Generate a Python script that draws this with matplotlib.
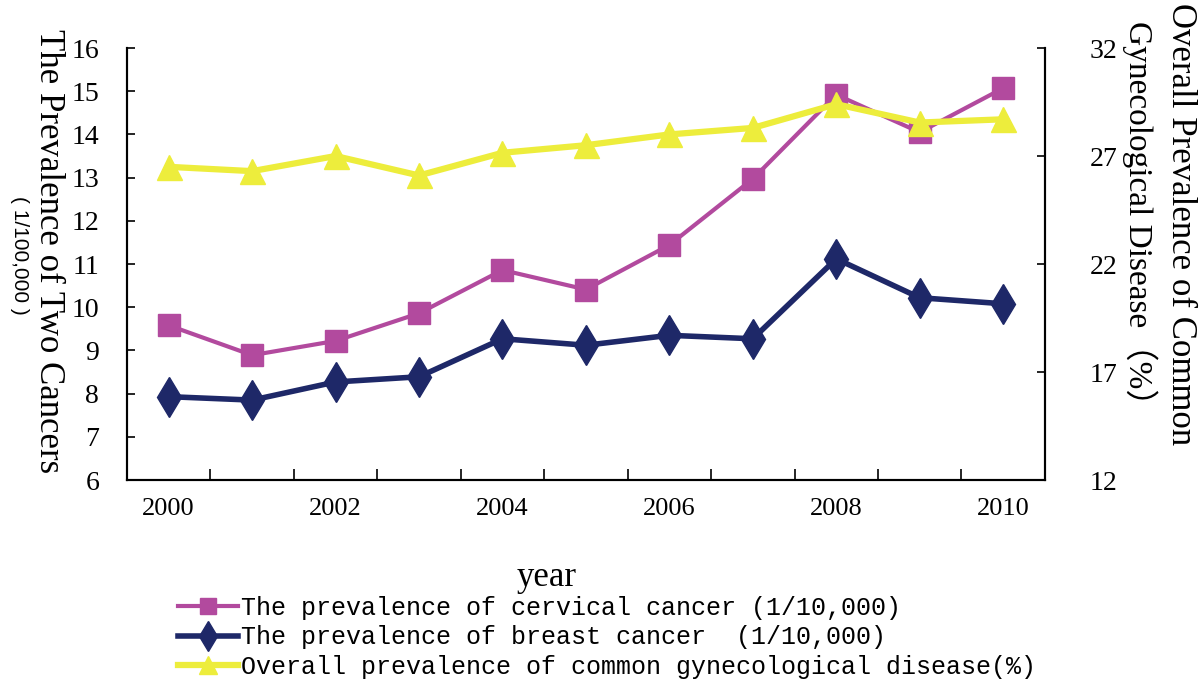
import matplotlib.pyplot as plt
from matplotlib.ticker import FixedLocator, NullFormatter

# --- data ---
years = [2000, 2001, 2002, 2003, 2004, 2005, 2006, 2007, 2008, 2009, 2010]
cervical = [9.58, 8.89, 9.22, 9.86, 10.86, 10.41, 11.44, 12.97, 14.92, 14.05, 15.07]
breast = [7.93, 7.85, 8.27, 8.39, 9.27, 9.12, 9.35, 9.27, 11.12, 10.22, 10.08]
gyneco = [26.5, 26.3, 27.0, 26.1, 27.15, 27.5, 28.0, 28.3, 29.4, 28.55, 28.7]

left_ticks = list(range(6, 17))
right_ticks = [12, 17, 22, 27, 32]

serif = 'Liberation Serif'
mono = 'Liberation Mono'

c_cerv = '#B24A9E'
c_breast = '#1E2868'
c_gyn = '#EDED3C'

fig = plt.figure(figsize=(12.01, 6.84), dpi=100)
ax = fig.add_axes([0.1057, 0.2982, 0.7643, 0.6316])
ax2 = ax.twinx()

x = list(range(len(years)))

l1, = ax.plot(x, cervical, color=c_cerv, lw=3, marker='s', ms=16, zorder=3)
l2, = ax.plot(x, breast, color=c_breast, lw=4, marker='d', ms=20, zorder=3)
l3, = ax2.plot(x, gyneco, color=c_gyn, lw=4.5, marker='^', ms=18, zorder=3)

ax.set_xlim(-0.5, len(years) - 0.5)
ax.set_ylim(6, 16)
ax2.set_ylim(12, 32)

# category axis: tick marks between bins, labels on even years
ax.set_xticks([i for i in x if years[i] % 2 == 0])
ax.set_xticklabels([str(years[i]) for i in x if years[i] % 2 == 0],
                   family=serif, fontsize=19)
ax.xaxis.set_minor_locator(FixedLocator([i - 0.5 for i in range(len(years) + 1)]))
ax.xaxis.set_minor_formatter(NullFormatter())
ax.tick_params(axis='x', which='major', length=0, pad=13)
ax.tick_params(axis='x', which='minor', direction='in', length=8, width=1.2)

ax.set_yticks(left_ticks)
ax.set_yticklabels([str(v) for v in left_ticks], family=serif, fontsize=20)
ax.tick_params(axis='y', direction='in', length=6, width=1.2, pad=20)

ax2.set_yticks(right_ticks)
ax2.set_yticklabels([str(v) for v in right_ticks], family=serif, fontsize=20)
ax2.tick_params(axis='y', direction='in', length=6, width=1.2, pad=32)

for a in (ax, ax2):
    a.spines['top'].set_visible(False)
    for s in ('left', 'right', 'bottom'):
        a.spines[s].set_linewidth(1.5)

# axis titles
fig.text(0.040, 0.958, 'The Prevalence of Two Cancers', rotation=270,
         family=serif, fontsize=25, ha='center', va='top')
fig.text(0.016, 0.627, '( 1/100,000 )', rotation=270,
         family='Liberation Sans', fontsize=15, ha='center', va='center')
fig.text(0.983, 0.995, 'Overall Prevalence of Common', rotation=270,
         family=serif, fontsize=25, ha='center', va='top')
fig.text(0.949, 0.97, 'Gynecological Disease（%）', rotation=270,
         family=[serif, 'Noto Sans CJK SC'], fontsize=24, ha='center', va='top')
fig.text(0.455, 0.155, 'year', family=serif, fontsize=25, ha='center', va='center')

leg = fig.legend([l1, l2, l3],
                 ['The prevalence of cervical cancer (1/10,000)',
                  'The prevalence of breast cancer  (1/10,000)',
                  'Overall prevalence of common gynecological disease(%)'],
                 loc='upper left', bbox_to_anchor=(0.138, 0.147),
                 frameon=False, prop={'family': mono, 'size': 18},
                 handlelength=2.4, handletextpad=0.1, labelspacing=0.22,
                 borderpad=0, markerscale=0.75)

fig.savefig('out.png', dpi=100)
plt.close(fig)
